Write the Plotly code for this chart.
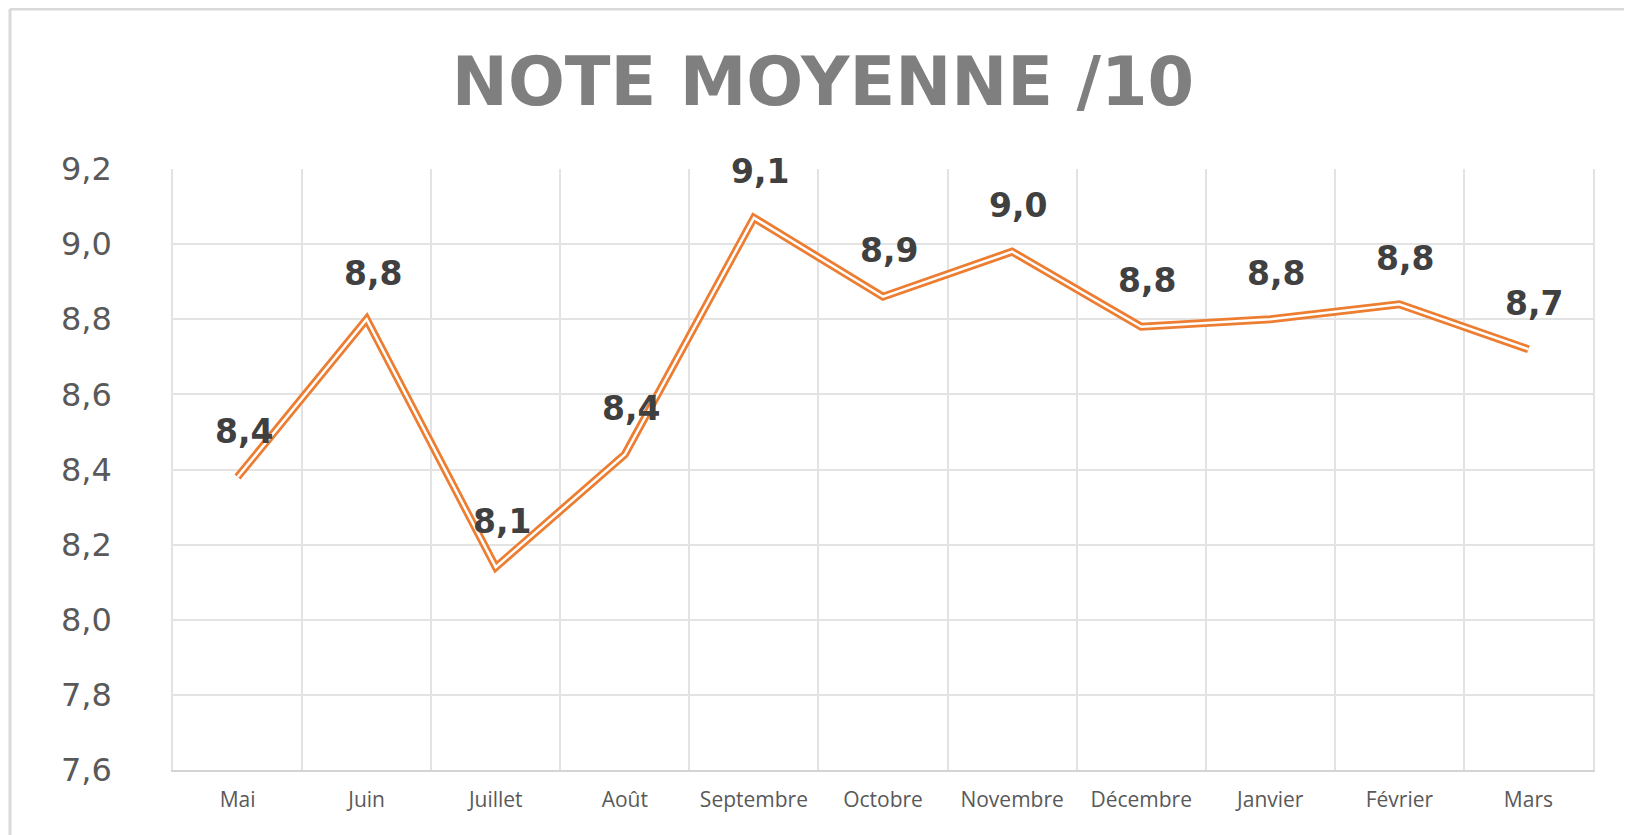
import plotly.graph_objects as go

months = ["Mai", "Juin", "Juillet", "Août", "Septembre", "Octobre", "Novembre",
          "Décembre", "Janvier", "Février", "Mars"]
notes = [8.38, 8.80, 8.14, 8.44, 9.07, 8.86, 8.98, 8.78, 8.80, 8.84, 8.72]
y_ticks = [7.6, 7.8, 8.0, 8.2, 8.4, 8.6, 8.8, 9.0, 9.2]
title_text = "NOTE MOYENNE /10"

ORANGE = "#ED7D31"

# page has an 8px body margin: figure sized to fill the rest of the window
W, H = 1624, 827
ML, MR, MT, MB = 165, 39, 161, 65

fig = go.Figure()
fig.add_trace(go.Scatter(x=months, y=notes, mode="lines",
                         line=dict(color=ORANGE, width=8), hoverinfo="skip",
                         showlegend=False))
fig.add_trace(go.Scatter(x=months, y=notes, mode="lines",
                         line=dict(color="white", width=2.5),
                         showlegend=False))

for m, v in zip(months, notes):
    fig.add_annotation(x=m, y=v, text=f"{v:.1f}".replace(".", ","),
                       showarrow=False, yshift=46, xshift=6,
                       font=dict(family="DejaVu Sans", size=33, color="#404040",
                                 weight="bold"))

# chart frame (Excel-like border)
pw, ph = W - ML - MR, H - MT - MB
bottom = H - MB
xl = (2 - ML) / pw
yt = (bottom - 1) / ph
fig.add_shape(type="line", xref="paper", yref="paper", x0=xl, x1=xl,
              y0=yt, y1=(bottom - H - 10) / ph, line=dict(color="#d9d9d9", width=3))
fig.add_shape(type="line", xref="paper", yref="paper", x0=xl, x1=(W + 10 - ML) / pw,
              y0=yt, y1=yt, line=dict(color="#d9d9d9", width=3))

fig.update_layout(
    width=W, height=H,
    margin=dict(l=ML, r=MR, t=MT, b=MB),
    paper_bgcolor="white", plot_bgcolor="white",
    separators=", ",
    title=dict(text=title_text, x=815 / W, xanchor="center",
               y=1 - 74 / H, yanchor="middle",
               font=dict(family="DejaVu Sans", size=67, color="#7f7f7f",
                         weight="bold")),
    xaxis=dict(type="category", range=[-0.5, len(months) - 0.5],
               tickson="boundaries", showgrid=True, gridcolor="#e3e3e3",
               gridwidth=1.5, ticks="", showline=True, linecolor="#d4d4d4",
               linewidth=2, tickfont=dict(family="Open Sans", size=21,
                                          color="#595959"),
               ticklabelstandoff=10, fixedrange=True),
    yaxis=dict(range=[7.6, 9.2], tickvals=y_ticks, tickformat=".1f",
               showgrid=True, gridcolor="#e3e3e3", gridwidth=1.5,
               zeroline=False, ticks="", showline=True, mirror=True,
               linecolor="#e3e3e3", linewidth=1.5,
               tickfont=dict(family="DejaVu Sans", size=32, color="#595959"),
               ticklabelstandoff=53, fixedrange=True),
)

fig.write_html("out.html")
